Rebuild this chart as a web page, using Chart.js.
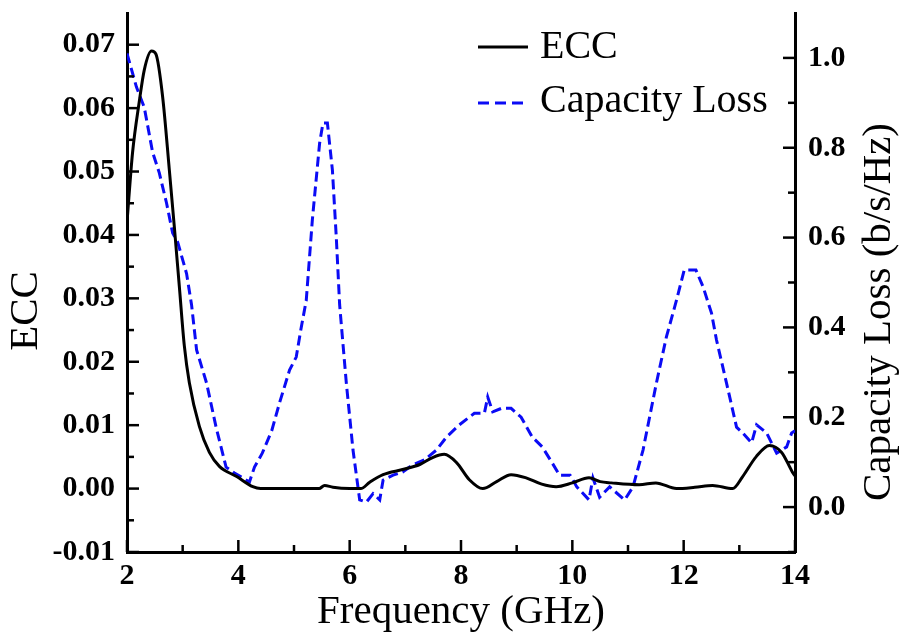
<!DOCTYPE html>
<html>
<head>
<meta charset="utf-8">
<script src="https://cdn.jsdelivr.net/npm/chart.js@4/dist/chart.umd.min.js"></script>
<style>
  html, body { margin: 0; padding: 0; background: #fff; }
  canvas { display: block; }
</style>
</head>
<body>
<canvas id="c" width="905" height="638"></canvas>
<script>
// ---- data ----
const freqECC = [2.0, 2.1, 2.22, 2.31, 2.44, 2.52, 2.64, 2.76, 2.85, 2.94, 3.03, 3.12, 3.3, 3.48, 3.66, 3.97, 4.26, 4.4, 5.0, 5.45, 5.55, 5.7, 6.0, 6.2, 6.36, 6.6, 6.95, 7.26, 7.49, 7.7, 7.92, 8.15, 8.39, 8.64, 8.9, 9.17, 9.45, 9.71, 10.0, 10.3, 10.5, 10.7, 11.2, 11.5, 11.87, 12.2, 12.52, 12.88, 13.06, 13.3, 13.54, 13.76, 13.96, 14.0];
const ecc = [0.042, 0.053, 0.061, 0.066, 0.069, 0.0685, 0.0618, 0.0503, 0.0413, 0.0319, 0.0225, 0.0167, 0.0098, 0.0057, 0.0035, 0.0019, 0.0003, 0.0, 0.0, 0.0, 0.0005, 0.0002, 0.0, 0.0, 0.001, 0.0022, 0.003, 0.0038, 0.0049, 0.0054, 0.0041, 0.0014, 0.0, 0.0011, 0.0022, 0.0017, 0.0007, 0.0003, 0.0009, 0.0017, 0.0011, 0.0009, 0.0006, 0.0009, 0.0, 0.0002, 0.0005, 0.0, 0.0019, 0.005, 0.0068, 0.0057, 0.0025, 0.002];

const freqCL = [2.0, 2.17, 2.31, 2.46, 2.58, 2.71, 2.82, 2.91, 3.07, 3.16, 3.25, 3.43, 3.6, 3.78, 3.93, 4.2, 4.29, 4.43, 4.6, 4.74, 4.92, 5.04, 5.13, 5.22, 5.33, 5.46, 5.52, 5.6, 5.69, 5.76, 5.82, 5.94, 6.06, 6.18, 6.3, 6.42, 6.54, 6.6, 6.78, 6.95, 7.13, 7.34, 7.56, 7.74, 7.97, 8.24, 8.42, 8.48, 8.57, 8.73, 8.9, 9.08, 9.28, 9.46, 9.64, 9.77, 9.96, 10.08, 10.3, 10.37, 10.49, 10.67, 10.94, 11.09, 11.27, 11.51, 11.69, 11.87, 12.01, 12.22, 12.35, 12.5, 12.59, 12.77, 12.95, 13.06, 13.22, 13.31, 13.49, 13.67, 13.85, 13.94, 14.0];
const capLoss = [1.01, 0.935, 0.89, 0.79, 0.744, 0.677, 0.61, 0.59, 0.52, 0.45, 0.35, 0.276, 0.178, 0.089, 0.076, 0.056, 0.089, 0.12, 0.17, 0.232, 0.305, 0.334, 0.40, 0.46, 0.64, 0.81, 0.855, 0.855, 0.75, 0.60, 0.45, 0.276, 0.127, 0.016, 0.011, 0.03, 0.016, 0.06, 0.071, 0.078, 0.094, 0.105, 0.127, 0.156, 0.183, 0.209, 0.209, 0.245, 0.212, 0.22, 0.22, 0.2, 0.156, 0.134, 0.098, 0.071, 0.071, 0.045, 0.016, 0.065, 0.022, 0.045, 0.016, 0.045, 0.127, 0.276, 0.379, 0.46, 0.528, 0.528, 0.49, 0.432, 0.372, 0.276, 0.178, 0.165, 0.143, 0.183, 0.165, 0.12, 0.134, 0.165, 0.17];

const xMajorTicks = [2, 4, 6, 8, 10, 12, 14];
const xMinorTicks = [3, 5, 7, 9, 11, 13];
const eccMajorTicks = [-0.01, 0.0, 0.01, 0.02, 0.03, 0.04, 0.05, 0.06, 0.07];
const eccMinorTicks = [-0.005, 0.005, 0.015, 0.025, 0.035, 0.045, 0.055, 0.065];
const clMajorTicks = [0.0, 0.2, 0.4, 0.6, 0.8, 1.0];
const clMinorTicks = [-0.1, 0.1, 0.3, 0.5, 0.7, 0.9];

const labels = { x: 'Frequency (GHz)', yLeft: 'ECC', yRight: 'Capacity Loss (b/s/Hz)' };
const seriesNames = ['ECC', 'Capacity Loss'];

const BLUE = '#0b0bf5';
const SERIF = '"Liberation Serif", "Times New Roman", serif';

const toPts = (xs, ys) => xs.map((x, i) => ({ x: x, y: ys[i] }));

const decor = {
  id: 'decor',
  afterDraw(chart) {
    const ctx = chart.ctx;
    const a = chart.chartArea;
    const sx = chart.scales.x, sy = chart.scales.y, sy2 = chart.scales.y2;
    ctx.save();
    ctx.strokeStyle = '#000';
    ctx.lineWidth = 2.5;
    ctx.lineCap = 'butt';
    const line = (x1, y1, x2, y2) => { ctx.beginPath(); ctx.moveTo(x1, y1); ctx.lineTo(x2, y2); ctx.stroke(); };
    // x ticks (inward)
    xMajorTicks.forEach(v => { const p = sx.getPixelForValue(v); line(p, a.bottom, p, a.bottom - 12); });
    xMinorTicks.forEach(v => { const p = sx.getPixelForValue(v); line(p, a.bottom, p, a.bottom - 7); });
    // left ticks
    eccMajorTicks.forEach(v => { const p = sy.getPixelForValue(v); line(a.left, p, a.left + 12, p); });
    eccMinorTicks.forEach(v => { const p = sy.getPixelForValue(v); line(a.left, p, a.left + 7, p); });
    // right ticks
    clMajorTicks.forEach(v => { const p = sy2.getPixelForValue(v); line(a.right, p, a.right - 12, p); });
    clMinorTicks.forEach(v => { const p = sy2.getPixelForValue(v); line(a.right, p, a.right - 7, p); });

    // titles
    ctx.fillStyle = '#000';
    ctx.textAlign = 'center';
    ctx.textBaseline = 'middle';
    ctx.font = '41px ' + SERIF;
    ctx.fillText(labels.x, (a.left + a.right) / 2, 612);
    ctx.save();
    ctx.translate(26, 311);
    ctx.rotate(-Math.PI / 2);
    ctx.fillText(labels.yLeft, 0, 0);
    ctx.restore();
    ctx.save();
    ctx.translate(879, 312);
    ctx.rotate(-Math.PI / 2);
    ctx.fillText(labels.yRight, 0, 0);
    ctx.restore();

    // legend
    ctx.textAlign = 'left';
    ctx.font = '40px ' + SERIF;
    ctx.lineWidth = 3;
    ctx.strokeStyle = '#000';
    line(478, 47, 528, 47);
    ctx.fillText(seriesNames[0], 540, 47);
    ctx.strokeStyle = BLUE;
    ctx.setLineDash([11, 6]);
    line(478, 103, 523, 103);
    ctx.setLineDash([]);
    ctx.fillText(seriesNames[1], 540, 101);
    ctx.restore();
  }
};

const tickFont = { family: SERIF, size: 30, weight: 'bold' };
const fitV = w => s => { s.width = w; s.paddingTop = 0; s.paddingBottom = 0; };

new Chart(document.getElementById('c'), {
  type: 'line',
  data: {
    datasets: [
      {
        label: seriesNames[0],
        data: toPts(freqECC, ecc),
        yAxisID: 'y',
        borderColor: '#000',
        borderWidth: 3,
        pointRadius: 0,
        cubicInterpolationMode: 'monotone',
        fill: false
      },
      {
        label: seriesNames[1],
        data: toPts(freqCL, capLoss),
        yAxisID: 'y2',
        borderColor: BLUE,
        borderWidth: 3,
        borderDash: [10, 5],
        pointRadius: 0,
        tension: 0,
        fill: false
      }
    ]
  },
  options: {
    responsive: false,
    animation: false,
    layout: { padding: { top: 13, left: 0, right: 0, bottom: 0 } },
    plugins: { legend: { display: false }, tooltip: { enabled: false } },
    scales: {
      x: {
        type: 'linear',
        min: 2, max: 14,
        afterFit: s => { s.height = 86; s.paddingLeft = 0; s.paddingRight = 0; },
        grid: { display: false, drawTicks: false },
        border: { display: true, color: '#000', width: 3 },
        ticks: {
          stepSize: 2, padding: 6, color: '#000', font: tickFont,
          includeBounds: false,
          callback: v => xMajorTicks.includes(v) ? String(v) : ''
        }
      },
      y: {
        type: 'linear',
        position: 'left',
        min: -0.01, max: 0.075,
        afterFit: fitV(127),
        grid: { display: false, drawTicks: false },
        border: { display: true, color: '#000', width: 3 },
        ticks: {
          stepSize: 0.01, padding: 12, color: '#000', font: tickFont,
          includeBounds: false,
          callback: v => {
            const r = Math.round(v * 1000) / 1000;
            return eccMajorTicks.some(t => Math.abs(t - r) < 1e-6) ? r.toFixed(2) : '';
          }
        }
      },
      y2: {
        type: 'linear',
        position: 'right',
        min: -0.1, max: 1.1,
        afterFit: fitV(110),
        grid: { display: false, drawTicks: false },
        border: { display: true, color: '#000', width: 3 },
        ticks: {
          stepSize: 0.1, padding: 13, color: '#000', font: tickFont,
          includeBounds: false,
          autoSkip: false,
          callback: v => {
            const r = Math.round(v * 100) / 100;
            return clMajorTicks.some(t => Math.abs(t - r) < 1e-6) ? r.toFixed(1) : '';
          }
        }
      }
    }
  },
  plugins: [decor]
});
</script>
</body>
</html>
